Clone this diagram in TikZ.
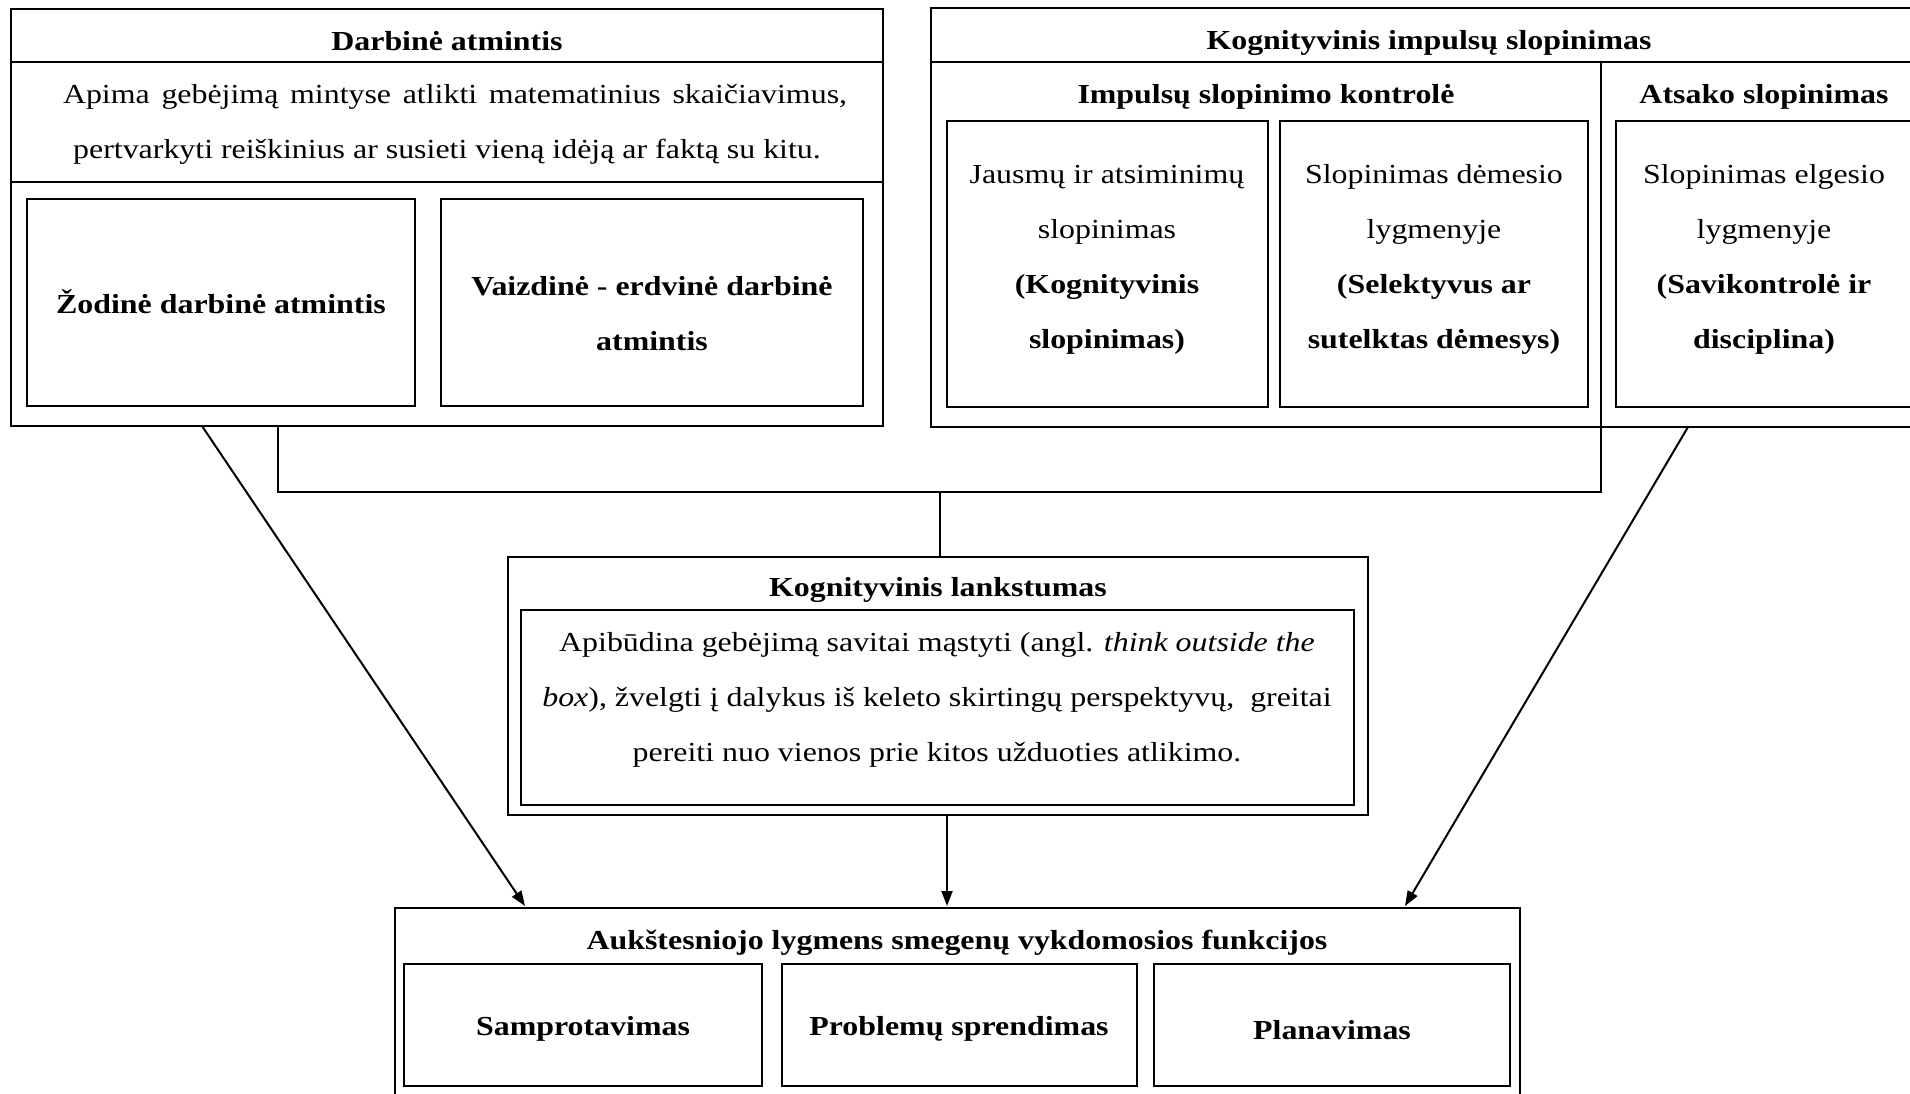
\documentclass[tikz,border=0pt]{standalone}
\usepackage{fontspec}
\setmainfont{Liberation Serif}[FakeStretch=1.16]
\usetikzlibrary{arrows.meta}
\newcommand\fsz{\fontsize{27.5}{55}\selectfont}
\newcommand\mybox[5]{\node[boxn, anchor=north west, minimum width=#4pt, minimum height=#5pt] (#1) at (#2,#3) {};}
\begin{document}
\begin{tikzpicture}[x=1pt, y=-1pt,
  boxn/.style={draw, line width=1.3pt, inner sep=0pt, outer sep=0pt, rectangle},
  rule/.style={line width=1.3pt},
  conn/.style={line width=2pt},
  arr/.style={line width=2pt, -{Triangle[length=15pt, width=11pt]}},
  lbl/.style={anchor=base, inner sep=0pt, font=\fsz},
  ttl/.style={anchor=base, inner sep=0pt, font=\fsz\bfseries}]
\useasboundingbox (0,0) rectangle (1910,1093);
\clip (0,0) rectangle (1910,1093);
\fill[white] (0,0) rectangle (1910,1093);

% Darbine atmintis
\mybox{dam}{11}{9}{872}{417}
\draw[rule] ([yshift=-53pt]dam.north west) -- ([yshift=-53pt]dam.north east);
\draw[rule] ([yshift=-173pt]dam.north west) -- ([yshift=-173pt]dam.north east);
\mybox{damL}{27}{199}{388}{207}
\mybox{damR}{441}{199}{422}{207}
\node[ttl] (damT) at (447,50) {Darbinė atmintis};
\node[lbl] (damD1) at (455,103) {\makebox[784pt][s]{Apima gebėjimą mintyse atlikti matematinius skaičiavimus,}};
\node[lbl] (damD2) at (447,158) {pertvarkyti reiškinius ar susieti vieną idėją ar faktą su kitu.};
\node[ttl] (damLt) at (221,313) {Žodinė darbinė atmintis};
\node[ttl] (damRt1) at (652,295) {Vaizdinė - erdvinė darbinė};
\node[ttl] (damRt2) at (652,350) {atmintis};

% Kognityvinis impulsu slopinimas
\mybox{kis}{931}{8}{996}{419}
\draw[rule] ([yshift=-54pt]kis.north west) -- ([yshift=-54pt]kis.north east);
\mybox{kisA}{947}{121}{321}{286}
\mybox{kisB}{1280}{121}{308}{286}
\mybox{kisC}{1616}{121}{296}{286}
\node[ttl] (kisT) at (1429,49) {Kognityvinis impulsų slopinimas};
\node[ttl] (kisT1) at (1266,103) {Impulsų slopinimo kontrolė};
\node[ttl] (kisT2) at (1764,103) {Atsako slopinimas};
\node[lbl] (kisA1) at (1107,183) {Jausmų ir atsiminimų};
\node[lbl] (kisA2) at (1107,238) {slopinimas};
\node[ttl] (kisA3) at (1107,293) {(Kognityvinis};
\node[ttl] (kisA4) at (1107,348) {slopinimas)};
\node[lbl] (kisB1) at (1434,183) {Slopinimas dėmesio};
\node[lbl] (kisB2) at (1434,238) {lygmenyje};
\node[ttl] (kisB3) at (1434,293) {(Selektyvus ar};
\node[ttl] (kisB4) at (1434,348) {sutelktas dėmesys)};
\node[lbl] (kisC1) at (1764,183) {Slopinimas elgesio};
\node[lbl] (kisC2) at (1764,238) {lygmenyje};
\node[ttl] (kisC3) at (1764,293) {(Savikontrolė ir};
\node[ttl] (kisC4) at (1764,348) {disciplina)};

% Kognityvinis lankstumas
\mybox{kl}{508}{557}{860}{258}
\mybox{klin}{521}{610}{833}{195}
\node[ttl] (klT) at (938,596) {Kognityvinis lankstumas};
\node[lbl] (kl1) at (937,651) {Apibūdina gebėjimą savitai mąstyti (angl. \textit{think outside the}};
\node[lbl] (kl2) at (937,706) {\textit{box}), žvelgti į dalykus iš keleto skirtingų perspektyvų,\ \ greitai};
\node[lbl] (kl3) at (937,761) {pereiti nuo vienos prie kitos užduoties atlikimo.};

% Aukstesniojo lygmens
\mybox{auk}{395}{908}{1125}{200}
\mybox{auk1}{404}{964}{358}{122}
\mybox{auk2}{782}{964}{355}{122}
\mybox{auk3}{1154}{964}{356}{122}
\node[ttl] (aukT) at (957,949) {Aukštesniojo lygmens smegenų vykdomosios funkcijos};
\node[ttl] (auk1t) at (583,1035) {Samprotavimas};
\node[ttl] (auk2t) at (959,1035) {Problemų sprendimas};
\node[ttl] (auk3t) at (1332,1039) {Planavimas};

% connectors
\coordinate (jn) at (940,492);
\coordinate (divtop) at (1601,62);
\draw[rule] (divtop) -- (1601,427);
\draw[conn, line join=miter] ([xshift=267pt]dam.south west) |- (jn) -| (divtop |- kis.south);
\draw[conn] (jn) -- (jn |- kl.north);
\draw[arr] ([xshift=191pt]dam.south west) -- ([xshift=130pt,yshift=2pt]auk.north west);
\draw[arr] ([xshift=757pt]kis.south west) -- ([xshift=1010pt,yshift=2pt]auk.north west);
\draw[arr] ([xshift=9pt]kl.south) -- ([xshift=9pt,yshift=2pt]kl.south |- auk.north);
\end{tikzpicture}
\end{document}
